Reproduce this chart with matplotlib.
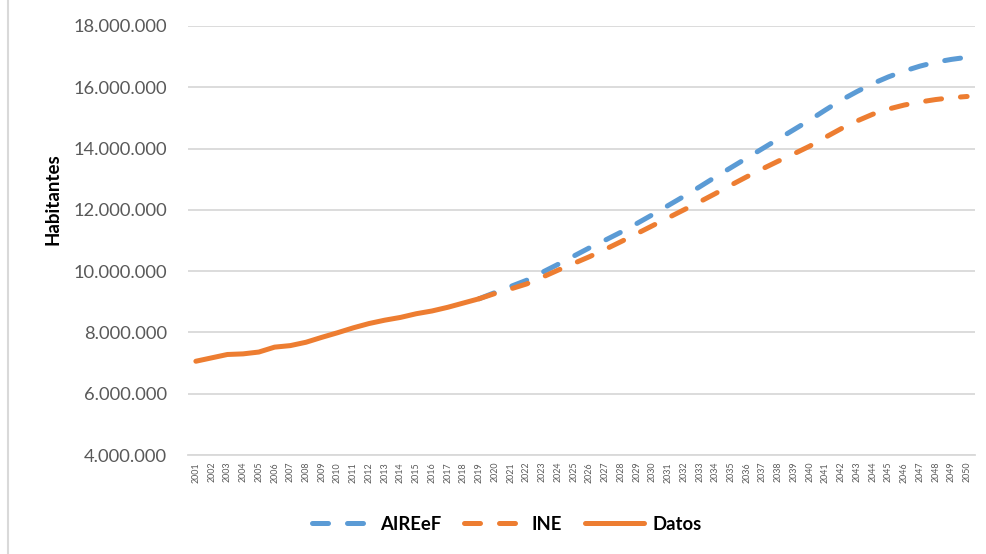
import matplotlib
matplotlib.use("Agg")
import matplotlib.pyplot as plt
from matplotlib.lines import Line2D
from matplotlib.ticker import FuncFormatter

years = list(range(2001, 2051))
datos_years = list(range(2001, 2020))
datos = [7.06, 7.17, 7.28, 7.30, 7.36, 7.52, 7.57, 7.68, 7.84, 7.99,
         8.15, 8.29, 8.40, 8.49, 8.61, 8.70, 8.82, 8.96, 9.10]
proj_years = list(range(2019, 2051))
aireef = [9.10, 9.30, 9.50, 9.70, 9.96, 10.22, 10.49, 10.76, 11.01, 11.27,
          11.55, 11.84, 12.14, 12.44, 12.75, 13.07, 13.38, 13.69, 14.00, 14.31,
          14.62, 14.93, 15.26, 15.58, 15.86, 16.12, 16.34, 16.53, 16.69, 16.82,
          16.91, 16.98]
ine = [9.10, 9.27, 9.42, 9.58, 9.80, 10.03, 10.25, 10.47, 10.71, 10.96,
       11.22, 11.48, 11.74, 12.00, 12.26, 12.53, 12.81, 13.08, 13.34, 13.59,
       13.83, 14.08, 14.37, 14.65, 14.90, 15.12, 15.29, 15.42, 15.52, 15.60,
       15.66, 15.70]
yticks = [4, 6, 8, 10, 12, 14, 16, 18]

BLUE = "#5B9BD5"
ORANGE = "#ED7D31"
GRID = "#D9D9D9"
TICK = "#595959"

plt.rcParams['font.family'] = ['Lato', 'DejaVu Sans']

W, H = 987, 554
fig = plt.figure(figsize=(W / 100, H / 100), dpi=100)
ax = fig.add_axes([188 / W, 1 - 455 / H, (975 - 188) / W, (455 - 26) / H])

idx = {y: i for i, y in enumerate(years)}
lw = 3.6
l1, = ax.plot([idx[y] for y in proj_years], [v * 1e6 for v in aireef],
              color=BLUE, lw=lw, dash_capstyle='round', solid_capstyle='round',
              label='AIREeF')
l1.set_dashes((3.2, 3.8))
l2, = ax.plot([idx[y] for y in proj_years], [v * 1e6 for v in ine],
              color=ORANGE, lw=lw, dash_capstyle='round', label='INE')
l2.set_dashes((3.2, 3.8))
l3, = ax.plot([idx[y] for y in datos_years], [v * 1e6 for v in datos],
              color=ORANGE, lw=lw, solid_capstyle='round', label='Datos')

ax.set_xlim(-0.5, len(years) - 0.5)
ax.set_ylim(4e6, 18e6)
ax.set_yticks([v * 1e6 for v in yticks])
ax.yaxis.set_major_formatter(FuncFormatter(lambda v, p: f"{int(round(v)):,}".replace(",", ".")))
ax.set_xticks(range(len(years)))
ax.set_xticklabels([str(y) for y in years], rotation=90, fontsize=6.4, color=TICK)
ax.tick_params(axis='y', length=0, pad=15, labelsize=13.2, labelcolor=TICK)
ax.tick_params(axis='x', length=0, pad=5)
ax.grid(axis='y', color=GRID, lw=1.3)
ax.set_axisbelow(True)
for s in ['top', 'right', 'left']:
    ax.spines[s].set_visible(False)
ax.spines['bottom'].set_color(GRID)
ax.spines['bottom'].set_linewidth(1.3)

fig.text(53 / W, 1 - 199 / H, 'Habitantes', rotation=90, ha='center', va='center',
         fontsize=13.5, fontweight='bold', color='black')

leg = fig.legend(handles=[l1, l2, l3], loc='center', bbox_to_anchor=(507 / W, 1 - 524 / H),
                 ncol=3, frameon=False, handlelength=3.2, handletextpad=0.5,
                 columnspacing=1.2, prop={'weight': 'bold', 'size': 13.3})

fig.add_artist(Line2D([8 / W, 8 / W], [0, 1], transform=fig.transFigure,
                      color=GRID, lw=1.5))

fig.savefig('out.png', dpi=100)
